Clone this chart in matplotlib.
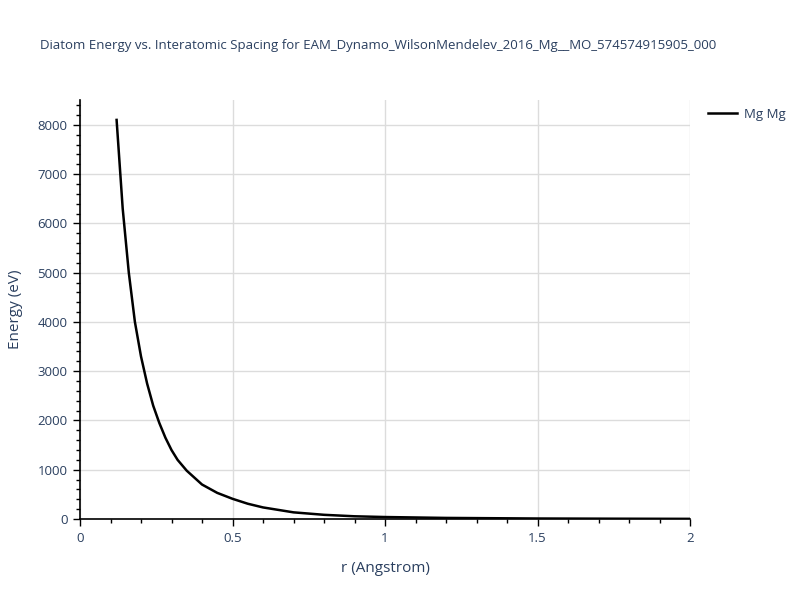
import matplotlib
matplotlib.use("Agg")
import matplotlib.pyplot as plt
from matplotlib.ticker import MultipleLocator

# values
r = [0.12, 0.14, 0.16, 0.18, 0.20, 0.22, 0.24, 0.26, 0.28, 0.30, 0.32, 0.35,
     0.40, 0.45, 0.50, 0.55, 0.60, 0.70, 0.80, 0.90, 1.00, 1.20, 1.50, 1.75, 2.00]
energy = [8100, 6300, 5000, 4000, 3300, 2750, 2300, 1950, 1650, 1400, 1200, 980,
          700, 530, 410, 310, 235, 135, 85, 55, 40, 22, 10, 6, 3]
series_name = "Mg Mg"
title = "Diatom Energy vs. Interatomic Spacing for EAM_Dynamo_WilsonMendelev_2016_Mg__MO_574574915905_000"

txt = "#2a3f5f"
plt.rcParams['font.family'] = ['Open Sans', 'DejaVu Sans']

fig = plt.figure(figsize=(8, 6), dpi=100)
ax = fig.add_axes([0.1, 0.135, 0.7625, 0.698])

ax.plot(r, energy, color="black", lw=1.8, label=series_name)

ax.set_xlim(0, 2)
ax.set_ylim(0, 8500)
ax.xaxis.set_minor_locator(MultipleLocator(0.1))
ax.yaxis.set_major_locator(MultipleLocator(1000))
ax.yaxis.set_minor_locator(MultipleLocator(200))
ax.set_xticks([0, 0.5, 1, 1.5, 2])
ax.set_xticklabels(["0", "0.5", "1", "1.5", "2"])

ax.grid(True, which="major", color="#dcdcdc", lw=1)
ax.set_axisbelow(True)
for s in ["top", "right"]:
    ax.spines[s].set_visible(False)
for s in ["left", "bottom"]:
    ax.spines[s].set_color("black")
    ax.spines[s].set_linewidth(1.2)

ax.tick_params(which="major", direction="out", length=5, width=1, colors="black",
               labelcolor=txt, labelsize=9.5, pad=4)
ax.tick_params(which="minor", direction="out", length=3, width=1, colors="black")

ax.set_xlabel("r (Angstrom)", color=txt, fontsize=11, labelpad=12)
ax.set_ylabel("Energy (eV)", color=txt, fontsize=11, labelpad=10)
fig.text(0.05, 0.925, title, color=txt, fontsize=9.5, ha="left", va="center")

ax.legend(loc="upper left", bbox_to_anchor=(1.01, 1.01), frameon=False,
          fontsize=9.5, labelcolor=txt, handlelength=2.2, handletextpad=0.5)

fig.savefig("out.png", dpi=100, facecolor="white")
